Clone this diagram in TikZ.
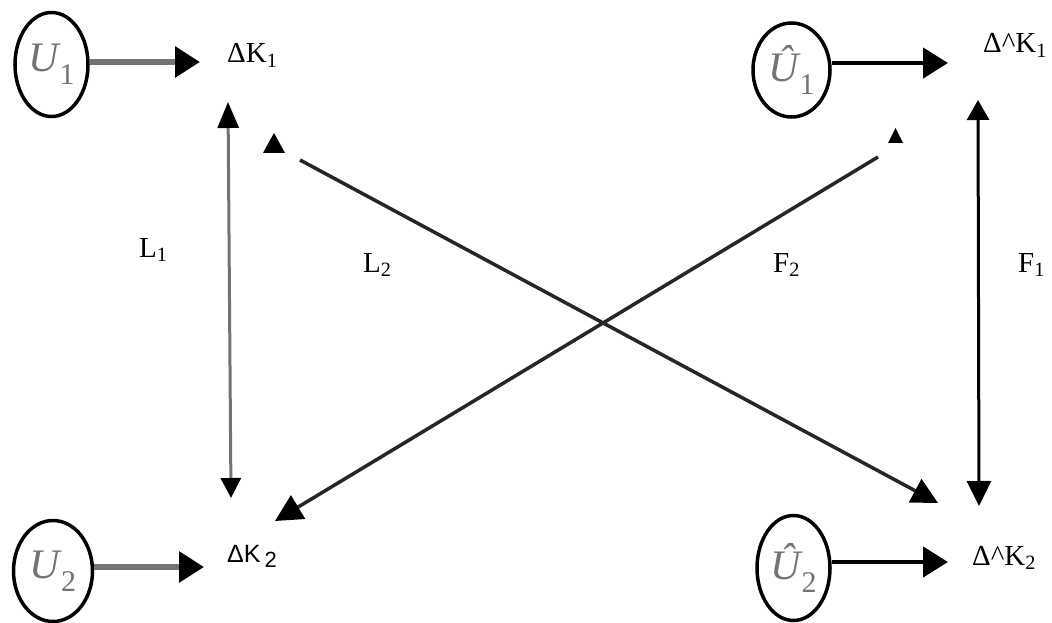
\documentclass[tikz,border=0pt]{standalone}
\usepackage{fontspec}
\setmainfont{Liberation Serif}
\newfontfamily\arialfont{Liberation Sans}
\usetikzlibrary{arrows.meta,shapes.geometric}
\tikzset{
  ubox/.style={draw=black,line width=3.5pt,ellipse,inner sep=0pt,text=black!55},
  lbl/.style={anchor=base west,inner sep=0pt,font=\fontsize{29}{30}\selectfont},
  grayline/.style={draw=black!55,line width=6pt},
  blackline/.style={draw=black,line width=4.5pt},
  hhead/.style={-{Triangle[length=25pt,width=30pt,color=black]}},
  thin/.style={line width=3pt},
  marker/.style={fill=black}
}
\newcommand{\ulab}[2]{\fontsize{42}{42}\selectfont\itshape #1\kern1pt\raisebox{-13pt}{\upshape\fontsize{30}{30}\selectfont #2}}
\begin{document}
\begin{tikzpicture}[x=1pt,y=-1pt]
\useasboundingbox (0,0) rectangle (1052,623);
% ellipses
\node[ubox,minimum width=73pt,minimum height=104pt] (u1) at (51.5,64.5) {\ulab{U}{1}};
\node[ubox,minimum width=77pt,minimum height=94pt] (hu1) at (791.5,70) {\ulab{\^{U}}{1}};
\node[ubox,minimum width=79pt,minimum height=101pt] (u2) at (53,571) {\ulab{U}{2}};
\node[ubox,minimum width=73pt,minimum height=105pt] (hu2) at (793.5,568) {\ulab{\^{U}}{2}};
% labels
\node[lbl] (k1) at (227,63) {ΔK\textsubscript{1}};
\node[lbl] (hk1) at (983,53) {Δ\textasciicircum K\textsubscript{1}};
\node[lbl] (hk2) at (972,565) {Δ\textasciicircum K\textsubscript{2}};
\node[lbl,font=\arialfont\fontsize{25}{26}\selectfont] (k2) at (227,562) {ΔK\,\raisebox{-5pt}{\fontsize{22}{22}\selectfont 2}};
\node[lbl] (l1) at (139,257) {L\textsubscript{1}};
\node[lbl] (l2) at (363,272) {L\textsubscript{2}};
\node[lbl] (f2) at (773,272) {F\textsubscript{2}};
\node[lbl] (f1) at (1018,272) {F\textsubscript{1}};
% connector end points
\coordinate (a1) at (200,62);
\coordinate (a2) at (948,63);
\coordinate (a3) at (204,567);
\coordinate (a4) at (948,562);
\coordinate (l1top) at (228,102);
\coordinate (l1bot) at (231,498);
\coordinate (f1top) at (978,100);
\coordinate (f1bot) at (979,506);
\coordinate (l2s) at (300,160);
\coordinate (l2e) at (938,503);
\coordinate (f2s) at (878,157);
\coordinate (f2e) at (275,521);
% horizontal arrows
\draw[grayline,hhead] (u1.east|-a1) -- (a1);
\draw[blackline,hhead] (hu1.east|-a2) -- (a2);
\draw[grayline,hhead] (u2.east|-a3) -- (a3);
\draw[blackline,hhead] (hu2.east|-a4) -- (a4);
% vertical arrows
\draw[draw=black!55,thin,{Triangle[length=26pt,width=21pt,color=black]}-{Triangle[length=20pt,width=20pt,color=black]}] (l1top) -- (l1bot);
\draw[draw=black,thin,{Triangle[length=20pt,width=22pt]}-{Triangle[length=25pt,width=24pt]}] (f1top) -- (f1bot);
% diagonals
\draw[draw=black!85,line width=3.5pt,-{Triangle[length=26pt,width=26pt,color=black]}] (l2s) -- (l2e);
\draw[draw=black!85,line width=3.5pt,-{Triangle[length=27pt,width=27pt,color=black]}] (f2s) -- (f2e);
% detached markers
\fill[marker] (263,153) -- (285,153) -- (274,133) -- cycle;
\fill[marker] (888,143) -- (903,143) -- (895.5,128) -- cycle;
\end{tikzpicture}
\end{document}
